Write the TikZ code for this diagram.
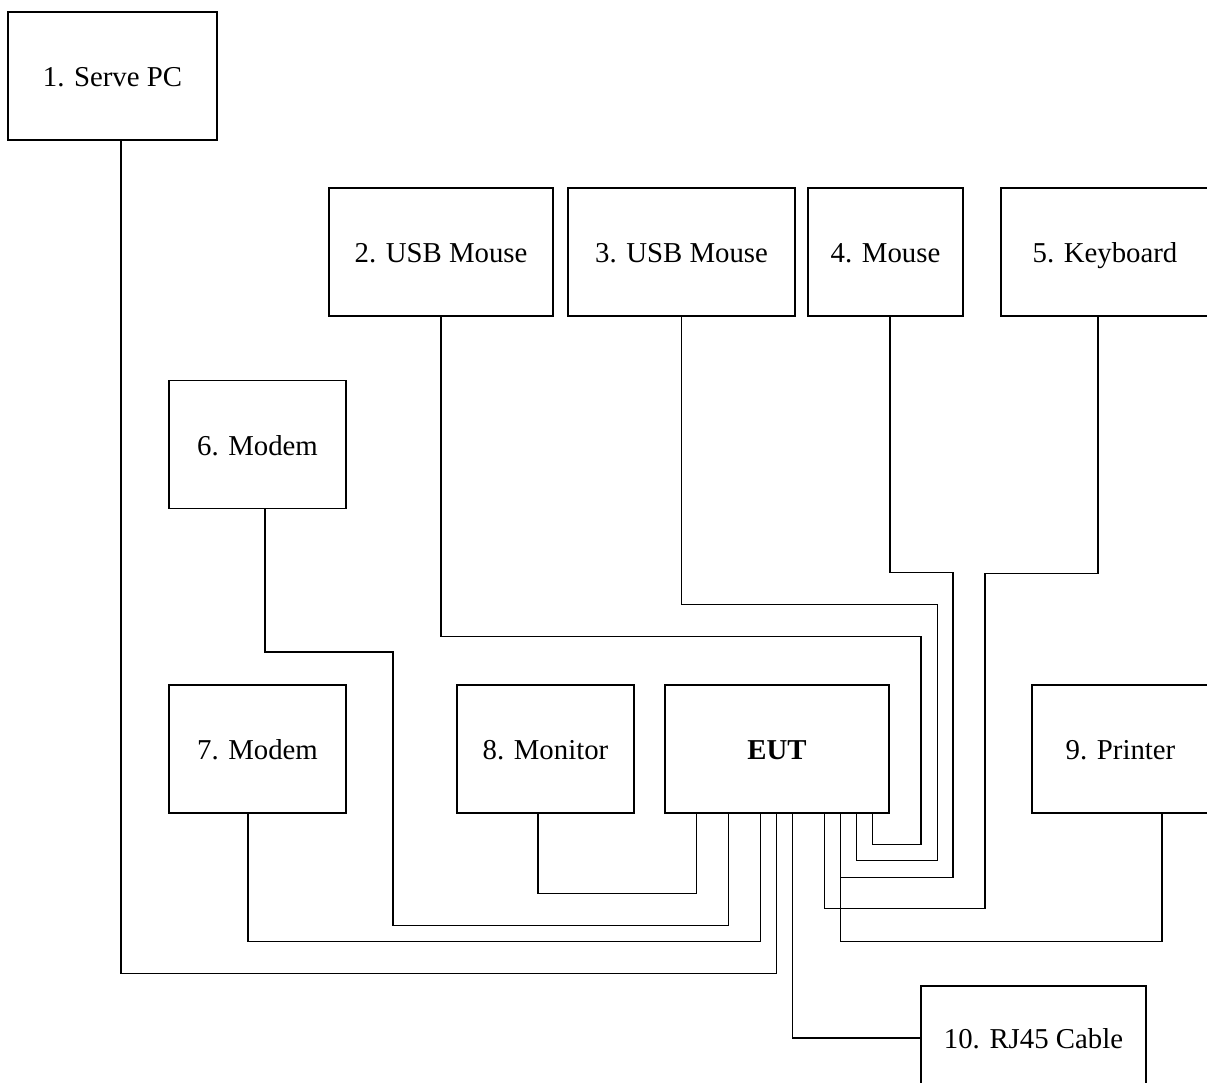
\documentclass[tikz,border=0pt]{standalone}
\usepackage{fontspec}
\setmainfont{Liberation Serif}
\usetikzlibrary{calc}

\begin{document}
\begin{tikzpicture}[x=0.4167pt, y=-0.4167pt, line width=0.6pt,
    unit/.style={draw, minimum height=53.3pt, inner sep=0pt, text height=9pt, text depth=0pt,
        font=\fontsize{12}{14}\selectfont}]
    \useasboundingbox (0,0) rectangle (1207,1082);

    % Server
    \node[unit, minimum width=87.1pt] (serve) at (112.5,76) {1. Serve PC};

    % Top row
    \node[unit, minimum width=93.3pt] (usbA) at (441,252) {2. USB Mouse};
    \node[unit, minimum width=94.6pt] (usbB) at (681.5,252) {3. USB Mouse};
    \node[unit, minimum width=64.6pt] (mouse) at (885.5,252) {4. Mouse};
    \node[unit, minimum width=86.7pt] (keyb) at (1105,252) {5. Keyboard};

    % Middle
    \node[unit, minimum width=73.75pt] (modemA) at (257.5,444.5) {6. Modem};

    % Bottom row
    \node[unit, minimum width=73.75pt] (modemB) at (257.5,749) {7. Modem};
    \node[unit, minimum width=73.75pt] (monitor) at (545.5,749) {8. Monitor};
    \node[unit, minimum width=93.3pt] (eut) at (777,749) {\bfseries EUT};
    \node[unit, minimum width=73.75pt] (printer) at (1120.5,749) {9. Printer};

    % Cable
    \node[unit, minimum width=93.75pt, minimum height=43.3pt] (rj45) at (1033.5,1038) {10. RJ45 Cable};

    % EUT ports
    \foreach \p/\dx in {1/32,2/64,3/96,4/112,5/128,6/160,7/176,8/192,9/208}
        \coordinate (e\p) at ($(eut.south west)+(\dx,0)$);

    % Left side cables
    \draw ($(monitor.south)+(-7.5,0)$) -- ++(0,80) -| (e1);
    \draw ($(modemA.south)+(7.5,0)$) |- ++(128,143) |- ($(e2)+(0,112)$) -- (e2);
    \draw ($(modemB.south)+(-9.5,0)$) |- ($(e3)+(0,128)$) -- (e3);
    \draw ($(serve.south)+(8.5,0)$) |- ($(e4)+(0,160)$) -- (e4);
    \draw (e5) |- (rj45.west);
    % Right side cables
    \draw (usbA.south) |- ++(480,320) |- ($(e9)+(0,31)$) -- (e9);
    \draw (usbB.south) |- ++(256,288) |- ($(e8)+(0,47)$) -- (e8);
    \draw ($(mouse.south)+(4.5,0)$) |- ++(63,256) |- ($(e7)+(0,64)$) -- (e7);
    \draw ($(keyb.south)+(-7,0)$) |- ++(-113,257) |- ($(e6)+(0,95)$) -- (e6);
    \draw ($(printer.south)+(41.5,0)$) |- ($(e7)+(0,128)$) -- (e7);
\end{tikzpicture}
\end{document}
